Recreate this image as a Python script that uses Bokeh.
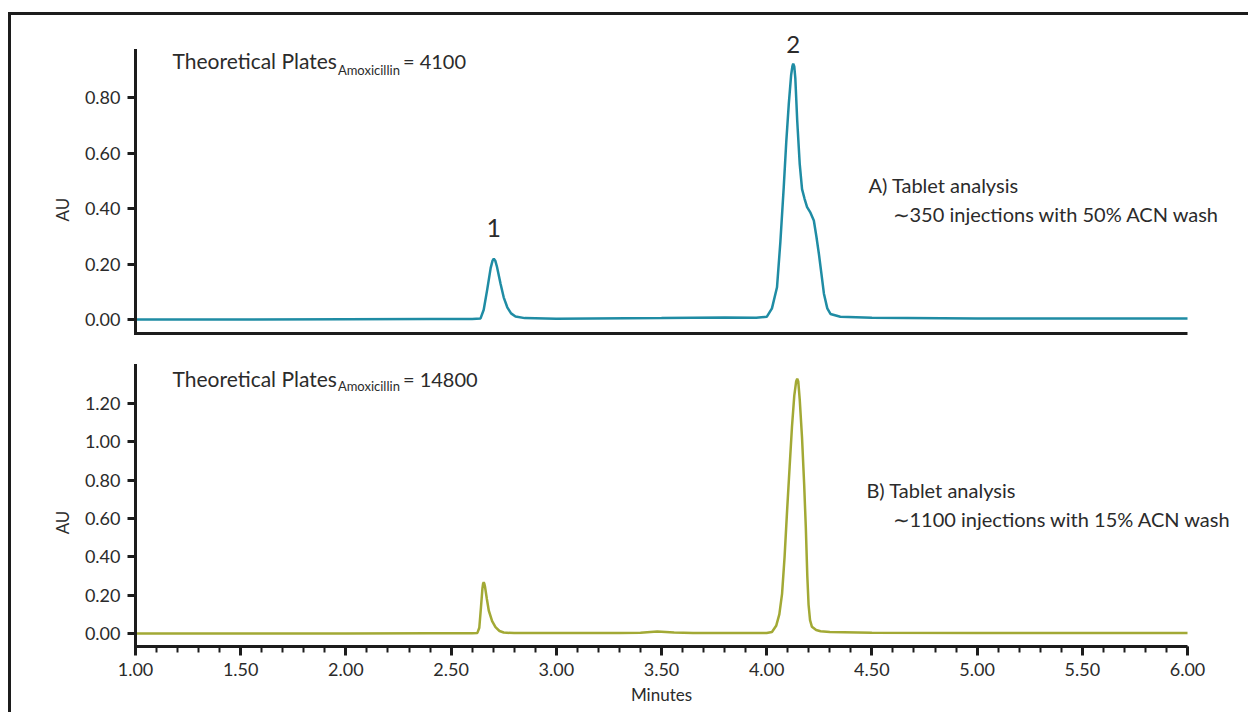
from bokeh.plotting import figure
from bokeh.models import (Range1d, Label, LinearAxis, SingleIntervalTicker, FixedTicker,
                          NumeralTickFormatter)
from bokeh.embed import file_html
from bokeh.resources import INLINE
import math

# ---- data ----
time_a = [1.00, 1.50, 2.00, 2.40, 2.60, 2.640, 2.655, 2.671, 2.688, 2.697, 2.703, 2.710, 2.718,
          2.735, 2.750, 2.767, 2.785, 2.806, 2.85, 3.00, 3.50, 3.80, 3.95, 4.001, 4.025, 4.049,
          4.065, 4.081, 4.093, 4.105, 4.116, 4.122, 4.126, 4.131, 4.136, 4.145, 4.157, 4.168,
          4.180, 4.192, 4.208, 4.224, 4.236, 4.248, 4.260, 4.272, 4.288, 4.303, 4.35, 4.50,
          5.00, 5.50, 6.00]
au_a = [0.000, 0.000, 0.001, 0.002, 0.002, 0.004, 0.035, 0.105, 0.185, 0.212, 0.219, 0.212, 0.190,
        0.129, 0.080, 0.044, 0.022, 0.011, 0.005, 0.003, 0.005, 0.007, 0.006, 0.010, 0.040, 0.116,
        0.280, 0.477, 0.640, 0.777, 0.880, 0.912, 0.922, 0.912, 0.870, 0.717, 0.560, 0.470,
        0.435, 0.405, 0.385, 0.357, 0.300, 0.237, 0.165, 0.093, 0.040, 0.020, 0.010, 0.006,
        0.004, 0.004, 0.004]

time_b = [1.00, 1.50, 2.00, 2.40, 2.60, 2.625, 2.634, 2.642, 2.649, 2.652, 2.655, 2.658, 2.661,
          2.670, 2.679, 2.695, 2.711, 2.730, 2.75, 2.80, 3.00, 3.30, 3.40, 3.48, 3.56, 3.65,
          3.80, 4.000, 4.025, 4.045, 4.060, 4.073, 4.085, 4.097, 4.109, 4.120, 4.131, 4.140,
          4.145, 4.150, 4.157, 4.168, 4.178, 4.186, 4.193, 4.199, 4.206, 4.215, 4.235, 4.256,
          4.30, 4.50, 5.00, 5.50, 6.00]
au_b = [0.000, 0.000, 0.000, 0.001, 0.001, 0.003, 0.030, 0.137, 0.235, 0.260, 0.268, 0.260, 0.245,
        0.180, 0.120, 0.065, 0.033, 0.013, 0.005, 0.002, 0.002, 0.003, 0.004, 0.010, 0.005, 0.003,
        0.003, 0.003, 0.008, 0.040, 0.100, 0.207, 0.400, 0.642, 0.870, 1.076, 1.240, 1.315,
        1.329, 1.315, 1.220, 1.020, 0.780, 0.550, 0.300, 0.150, 0.070, 0.035, 0.018, 0.012,
        0.008, 0.004, 0.003, 0.003, 0.003]

x_bounds = (1.0, 6.0)
ya_bounds = (-0.0505, 0.969)   # top panel AU extent
yb_bounds = (-0.0678, 1.398)   # bottom panel AU extent
plates_a = "= 4100"
plates_b = "= 14800"
note_a = ["A) Tablet analysis", "\u223c350 injections with 50% ACN wash"]
note_b = ["B) Tablet analysis", "\u223c1100 injections with 15% ACN wash"]
peak_labels = ["1", "2"]
peak_times = [2.703, 4.126]

FONT = "Lato"
INK = "#1c1c1c"
TXT = "#2b2b2b"
TEAL = "#1f8ca4"
OLIVE = "#a2a935"

# ---- canvas / scale calibration (pixels of the drawing area) ----
W, H = 1240, 700
OX, OY = 11, 15                 # page position of the drawing area
X1_PX, PX_PER_MIN = 135, 210.4  # where 1.00 min sits, pixels per minute
A0_PX, A_PX = 319, 277.5        # top panel: pixel of 0 AU, pixels per AU
B0_PX, B_PX = 633, 191.7        # bottom panel

x_rng = Range1d(1 + (OX - X1_PX) / PX_PER_MIN, 1 + (OX + W - X1_PX) / PX_PER_MIN)
ya_rng = Range1d((A0_PX - (OY + H)) / A_PX, (A0_PX - OY) / A_PX)
yb_rng = Range1d((B0_PX - (OY + H)) / B_PX, (B0_PX - OY) / B_PX)

p = figure(width=W, height=H, x_range=x_rng, y_range=ya_rng,
           output_backend="svg", toolbar_location=None,
           min_border=0, x_axis_location=None, y_axis_location=None)
p.extra_y_ranges = {"b": yb_rng}
p.grid.visible = False
p.outline_line_color = None
p.background_fill_color = "white"
p.border_fill_color = "white"
p.margin = (12, 0, 0, 8)
p.styles = {"border-left": "3px solid #1c1c1c", "border-top": "3px solid #1c1c1c"}

p.line(time_a, au_a, line_color=TEAL, line_width=2.5)
p.line(time_b, au_b, line_color=OLIVE, line_width=2.5, y_range_name="b")


def y_axis(rng_name, bounds):
    ax = LinearAxis(y_range_name=rng_name, fixed_location=x_bounds[0], bounds=bounds,
                    ticker=SingleIntervalTicker(interval=0.2, num_minor_ticks=0),
                    formatter=NumeralTickFormatter(format="0.00"))
    ax.axis_line_width = 3
    ax.axis_line_color = INK
    ax.axis_line_cap = "square"
    ax.major_tick_line_width = 3
    ax.major_tick_line_color = INK
    ax.major_tick_out = 8
    ax.major_tick_in = 0
    ax.minor_tick_line_color = None
    ax.major_label_text_font = FONT
    ax.major_label_text_font_size = "18px"
    ax.major_label_text_color = TXT
    ax.major_label_standoff = 7
    p.add_layout(ax, "left")


y_axis("default", ya_bounds)
y_axis("b", yb_bounds)

# top panel x-axis: bare line
xa = LinearAxis(fixed_location=ya_bounds[0], bounds=x_bounds, ticker=FixedTicker(ticks=[]))
xa.axis_line_width = 3
xa.axis_line_color = INK
xa.major_tick_line_color = None
xa.minor_tick_line_color = None
xa.major_label_standoff = 0
p.add_layout(xa, "below")

# bottom panel x-axis with ticks
xb = LinearAxis(y_range_name="b", fixed_location=yb_bounds[0], bounds=x_bounds,
                ticker=SingleIntervalTicker(interval=0.5, num_minor_ticks=5),
                formatter=NumeralTickFormatter(format="0.00"))
xb.axis_line_width = 3
xb.axis_line_color = INK
xb.major_tick_line_width = 3
xb.major_tick_line_color = INK
xb.major_tick_out = 9
xb.major_tick_in = 0
xb.minor_tick_line_width = 2
xb.minor_tick_line_color = INK
xb.minor_tick_out = 6
xb.minor_tick_in = 0
xb.major_label_text_font = FONT
xb.major_label_text_font_size = "18px"
xb.major_label_text_color = TXT
xb.major_label_standoff = 8
p.add_layout(xb, "below")


def lab(x, y, text, size, rng="default", align="left", baseline="alphabetic", angle=0):
    p.add_layout(Label(x=x, y=y, text=text, text_font=FONT, text_font_size=size,
                       text_color=TXT, text_align=align, text_baseline=baseline,
                       angle=angle, y_range_name=rng))


# plate annotations
lab(1.176, 0.933, "Theoretical Plates", "21px")
lab(1.962, 0.900, "Amoxicillin", "13px")
lab(2.271, 0.933, plates_a, "20px")
lab(1.176, 1.330, "Theoretical Plates", "21px", rng="b")
lab(1.962, 1.289, "Amoxicillin", "13px", rng="b")
lab(2.271, 1.330, plates_b, "20px", rng="b")

# peak numbers
lab(peak_times[0], 0.328, peak_labels[0], "25px", align="center")
lab(peak_times[1], 0.991, peak_labels[1], "24px", align="center")

# notes
lab(4.484, 0.483, note_a[0], "20px")
lab(4.598, 0.379, note_a[1], "20px")
lab(4.474, 0.746, note_b[0], "20px", rng="b")
lab(4.598, 0.595, note_b[1], "20px", rng="b")

# axis titles
lab(0.653, 0.396, "AU", "17px", align="center", baseline="middle", angle=math.pi / 2)
lab(0.653, 0.579, "AU", "17px", rng="b", align="center", baseline="middle", angle=math.pi / 2)
lab(3.50, (B0_PX - 694) / B_PX, "Minutes", "17px", rng="b", align="center", baseline="middle")

open("out.html", "w").write(file_html(p, INLINE))
